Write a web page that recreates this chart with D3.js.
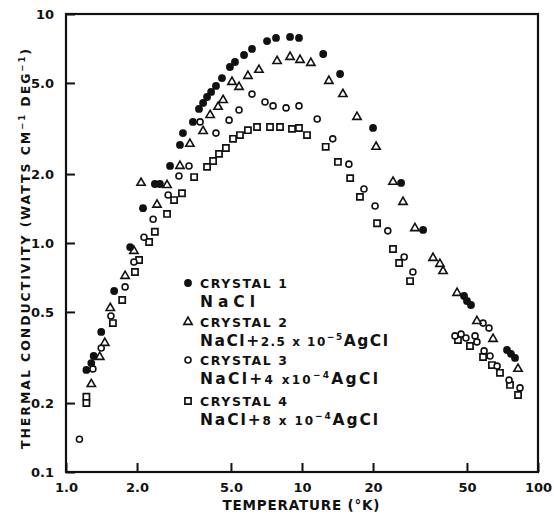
<!DOCTYPE html>
<html>
<head>
<meta charset="utf-8">
<script src="https://cdn.jsdelivr.net/npm/d3@7"></script>
<style>
  body { margin: 0; background: #fff; }
  svg text { font-family: "DejaVu Sans", "Liberation Sans", sans-serif; font-weight: bold; fill: #111; }
</style>
</head>
<body>
<div class="svg-content"></div>
<script>
// crystal 1 : NaCl
var c1Temp = [1.22, 1.28, 1.31, 1.41, 1.60, 1.87, 2.12, 2.38, 2.50, 2.76, 3.04, 3.13, 3.45, 3.66, 3.81, 3.96, 4.12, 4.32, 4.58, 4.95, 5.20, 5.68, 6.14, 7.11, 7.76, 8.90, 9.71, 12.3, 14.5, 20.0, 26.3, 32.6, 48.6, 50.0, 52.0, 73.9, 76.8, 79.9];
var c1Cond = [0.279, 0.299, 0.321, 0.409, 0.617, 0.960, 1.42, 1.81, 1.81, 2.17, 2.68, 3.02, 3.38, 3.85, 4.09, 4.34, 4.57, 4.85, 5.25, 5.87, 6.17, 6.62, 7.04, 7.62, 7.86, 7.94, 7.86, 6.69, 5.47, 3.18, 1.83, 1.14, 0.587, 0.558, 0.536, 0.341, 0.328, 0.315];

// crystal 2 : NaCl + 2.5e-5 AgCl
var c2Temp = [1.28, 1.39, 1.46, 1.54, 1.78, 1.94, 2.08, 2.43, 2.68, 3.04, 3.35, 3.81, 4.08, 4.41, 4.63, 5.05, 5.41, 5.90, 6.57, 7.84, 8.90, 9.81, 10.9, 13.0, 14.9, 17.1, 20.6, 24.3, 26.8, 30.1, 35.9, 38.4, 39.6, 45.4, 55.1, 64.5, 82.3];
var c2Cond = [0.242, 0.318, 0.366, 0.520, 0.718, 0.923, 1.83, 1.47, 1.79, 2.17, 2.71, 3.08, 3.62, 3.93, 4.21, 5.05, 4.80, 5.36, 5.70, 6.23, 6.49, 6.30, 6.11, 5.10, 4.47, 3.55, 2.63, 1.85, 1.51, 1.16, 0.860, 0.810, 0.754, 0.605, 0.456, 0.381, 0.282];

// crystal 3 : NaCl + 4e-4 AgCl
var c3Temp = [1.14, 1.30, 1.41, 1.55, 1.78, 1.94, 2.14, 2.34, 2.71, 3.01, 3.32, 3.70, 4.32, 4.91, 5.41, 6.14, 6.97, 7.54, 8.56, 9.71, 11.6, 13.5, 15.8, 18.3, 20.4, 23.1, 27.1, 29.5, 44.5, 47.2, 49.5, 54.1, 55.1, 58.5, 62.0, 59.1, 62.6, 67.1, 75.4, 83.9];
var c3Cond = [0.139, 0.282, 0.348, 0.480, 0.643, 0.826, 1.06, 1.27, 1.62, 1.96, 2.17, 3.38, 3.02, 3.44, 3.81, 4.47, 4.13, 3.97, 3.89, 3.97, 3.48, 2.85, 2.21, 1.72, 1.45, 1.13, 0.869, 0.747, 0.393, 0.400, 0.385, 0.393, 0.370, 0.447, 0.425, 0.338, 0.321, 0.290, 0.252, 0.233];

// crystal 4 : NaCl + 8e-4 AgCl
var c4Temp = [1.22, 1.22, 1.58, 1.73, 1.96, 2.04, 2.25, 2.38, 2.68, 2.87, 3.10, 3.49, 3.96, 4.20, 4.45, 4.76, 5.10, 5.46, 5.90, 6.45, 7.32, 8.07, 9.07, 9.71, 10.5, 12.6, 14.2, 16.0, 17.6, 20.8, 24.3, 25.8, 28.7, 45.8, 51.5, 58.5, 63.8, 69.0, 76.1, 82.3];
var c4Cond = [0.213, 0.200, 0.447, 0.564, 0.747, 0.843, 1.01, 1.12, 1.34, 1.54, 1.65, 1.94, 2.15, 2.28, 2.45, 2.60, 2.85, 2.96, 3.11, 3.21, 3.21, 3.21, 3.15, 3.18, 2.96, 2.63, 2.26, 1.92, 1.59, 1.22, 0.941, 0.818, 0.682, 0.377, 0.355, 0.318, 0.293, 0.271, 0.240, 0.217];

var xTicks = [1, 2, 5, 10, 20, 50, 100];
var xTickLabels = ["1.0", "2.0", "5.0", "10", "20", "50", "100"];
var yTicks = [0.1, 0.2, 0.5, 1, 2, 5, 10];
var yTickLabels = ["0.1", "0.2", "0.5", "1.0", "2.0", "5.0", "10"];

var legendNames = ["CRYSTAL 1", "CRYSTAL 2", "CRYSTAL 3", "CRYSTAL 4"];
var legendCoef = ["", "2.5 x 10", "4 x10", "8 x 10"];
var legendExp = ["", "\u22125", "\u22124", "\u22124"];
var markerKinds = ["dot", "triangle", "circle", "square"];

var width = 554;
var height = 516;
// plot frame (note: "top" is taken by window.top)
var frameL = 66, frameR = 538, frameT = 14, frameB = 472;

var svg = d3.select(".svg-content")
  .append("svg")
  .attr("width", width)
  .attr("height", height);

var x = d3.scaleLog().domain([1, 100]).range([frameL, frameR]);
var y = d3.scaleLog().domain([0.1, 10]).range([frameB, frameT]);

// axes, ticks pointing inward
svg.append("g")
  .attr("transform", "translate(0," + frameB + ")")
  .call(d3.axisBottom(x).tickValues(xTicks)
    .tickFormat(function(d, i) { return xTickLabels[i]; })
    .tickSizeInner(-9).tickSizeOuter(0).tickPadding(10.5))
  .call(function(g) { g.select(".domain").remove(); });

svg.append("g")
  .attr("transform", "translate(" + frameL + ",0)")
  .call(d3.axisLeft(y).tickValues(yTicks)
    .tickFormat(function(d, i) { return yTickLabels[i]; })
    .tickSizeInner(-9).tickSizeOuter(0).tickPadding(12))
  .call(function(g) { g.select(".domain").remove(); });

svg.selectAll(".tick line").attr("stroke", "#111").attr("stroke-width", 2);
svg.selectAll(".tick text").attr("font-size", "13px").attr("font-family", null);

svg.append("rect")
  .attr("x", frameL).attr("y", frameT)
  .attr("width", frameR - frameL).attr("height", frameB - frameT)
  .attr("fill", "none").attr("stroke", "#111").attr("stroke-width", 2.2);

// axis titles
svg.append("text")
  .attr("x", 301).attr("y", 510)
  .attr("text-anchor", "middle")
  .attr("font-size", "13.5px")
  .attr("textLength", 157).attr("lengthAdjust", "spacing")
  .text("TEMPERATURE (\u00b0K)");

var ylab = svg.append("text")
  .attr("transform", "translate(30,249) rotate(-90)")
  .attr("text-anchor", "middle")
  .attr("font-size", "12.5px")
  .attr("textLength", 400).attr("lengthAdjust", "spacing");
ylab.append("tspan").text("THERMAL CONDUCTIVITY (WATTS CM");
ylab.append("tspan").attr("dy", -5).attr("font-size", "8.5px").text("\u22121");
ylab.append("tspan").attr("dy", 5).text(" DEG");
ylab.append("tspan").attr("dy", -5).attr("font-size", "8.5px").text("\u22121");
ylab.append("tspan").attr("dy", 5).text(")");

function drawMarker(sel, kind) {
  if (kind == "dot") {
    sel.append("circle").attr("r", 3.9).attr("fill", "#111");
  } else if (kind == "circle") {
    sel.append("circle").attr("r", 3)
      .attr("fill", "#fff").attr("stroke", "#111").attr("stroke-width", 1.6);
  } else if (kind == "triangle") {
    sel.append("path").attr("d", d3.symbol(d3.symbolTriangle, 30)())
      .attr("fill", "#fff").attr("stroke", "#111").attr("stroke-width", 1.6);
  } else {
    sel.append("path").attr("d", d3.symbol(d3.symbolSquare, 38)())
      .attr("fill", "#fff").attr("stroke", "#111").attr("stroke-width", 1.7);
  }
}

var series = [
  {temp: c4Temp, cond: c4Cond, kind: "square"},
  {temp: c3Temp, cond: c3Cond, kind: "circle"},
  {temp: c2Temp, cond: c2Cond, kind: "triangle"},
  {temp: c1Temp, cond: c1Cond, kind: "dot"}
];

series.forEach(function(s) {
  var pts = s.temp.map(function(t, i) { return [t, s.cond[i]]; });
  var elemEnter = svg.append("g").selectAll("g")
    .data(pts).enter()
    .append("g")
    .attr("transform", function(d) {
      return "translate(" + x(d[0]) + "," + y(d[1]) + ")";
    });
  drawMarker(elemEnter, s.kind);
});

// legend
var legendY = [283, 322, 360, 401];
var legendWidths = [55, 188, 178, 178];
legendNames.forEach(function(name, i) {
  var m = svg.append("g").attr("transform", "translate(188," + legendY[i] + ")");
  drawMarker(m, markerKinds[i]);

  svg.append("text")
    .attr("x", 200).attr("y", legendY[i] + 4.5)
    .attr("font-size", "12.5px")
    .attr("textLength", 87).attr("lengthAdjust", "spacing")
    .text(name);

  var t = svg.append("text")
    .attr("x", 200).attr("y", legendY[i] + 24)
    .attr("font-size", "15.5px")
    .attr("textLength", legendWidths[i]).attr("lengthAdjust", "spacing");
  t.append("tspan").text("NaCl");
  if (legendCoef[i]) {
    t.append("tspan").text("+");
    t.append("tspan").attr("font-size", "12px").text(legendCoef[i]);
    t.append("tspan").attr("font-size", "9px").attr("dy", -6).text(legendExp[i]);
    t.append("tspan").attr("dy", 6).text("AgCl");
  }
});
</script>
</body>
</html>
